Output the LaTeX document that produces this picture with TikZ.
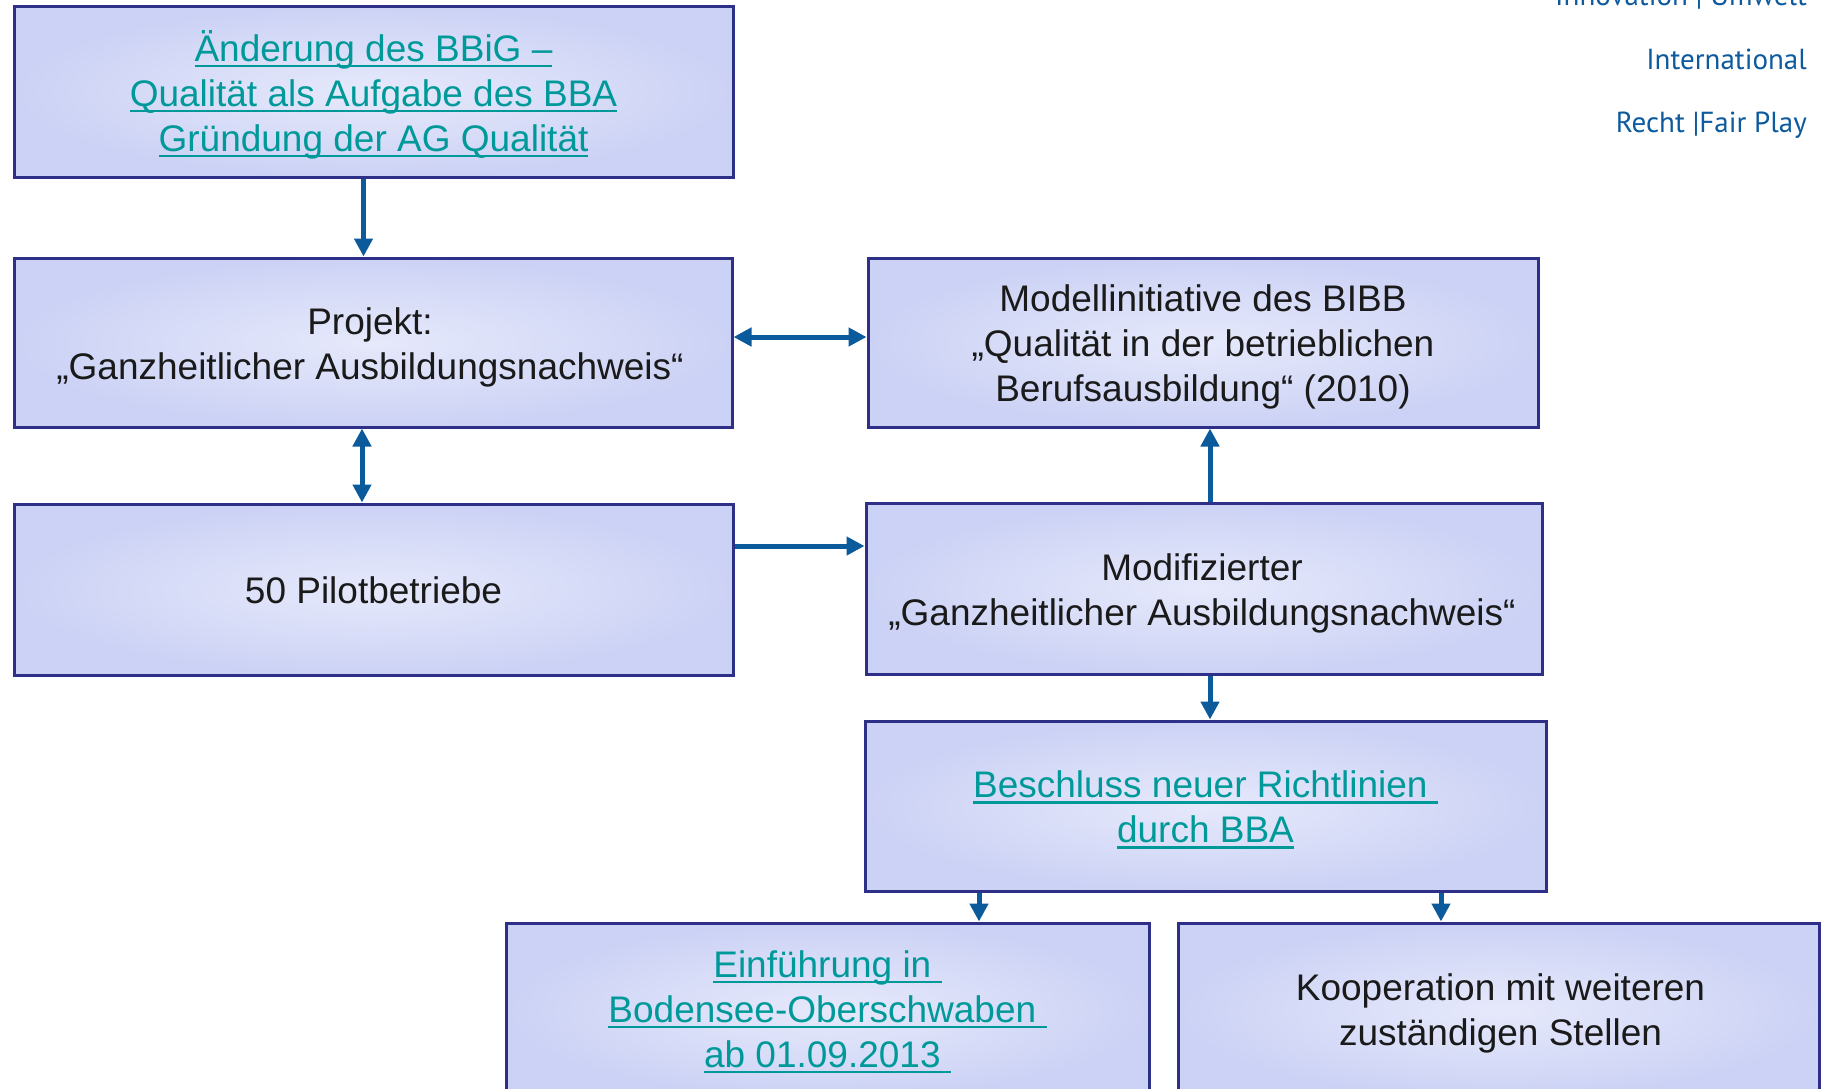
\documentclass[tikz,border=0pt]{standalone}
\usepackage{fontspec}
\setmainfont{Liberation Sans}
\newfontfamily\hdrfont{PT Sans}
\usetikzlibrary{arrows.meta}
\definecolor{boxin}{HTML}{E6E9FB}
\definecolor{boxout}{HTML}{CCD2F5}
\definecolor{boxline}{HTML}{2E3087}
\definecolor{arrowblue}{HTML}{0B5A9C}
\definecolor{linkteal}{HTML}{009999}
\definecolor{txtcol}{HTML}{1A1A1A}
\definecolor{hdrblue}{HTML}{0D5A9E}
\newcommand{\lnk}[1]{\setbox0\hbox{#1}\leavevmode\rlap{\rule[-6pt]{\wd0}{2.5pt}}\box0}
\tikzset{
  box/.style={draw=boxline, line width=3pt, shading=radial, inner color=boxin, outer color=boxout,
    inner sep=0pt},
  boxtext/.style={inner sep=0pt, align=center, font=\fontsize{37}{45}\selectfont, text=txtcol},
  linktext/.style={boxtext, text=linkteal},
  arr/.style={draw=arrowblue, line width=5pt, -{Triangle[length=18pt,width=18pt]}},
  darr/.style={draw=arrowblue, line width=5pt, {Triangle[length=18pt,width=18pt]}-{Triangle[length=18pt,width=18pt]}},
  hdr/.style={anchor=base east, inner sep=0pt, text=hdrblue, font=\hdrfont\fontsize{29}{34}\selectfont}
}
\begin{document}
\begin{tikzpicture}[x=1pt,y=-1pt]
\useasboundingbox (0,0) rectangle (1821,1088);
\clip (0,0) rectangle (1821,1088);
\fill[white] (0,0) rectangle (1821,1088);

\node[hdr] (h1) at (1807,5) {Innovation | Umwelt};
\node[hdr] (h2) at (1807,69) {International};
\node[hdr] (h3) at (1807,132) {Recht |Fair Play};

\node[box, minimum width=719pt, minimum height=171pt] (A) at (373.5,91.5) {};
\node[box, minimum width=718pt, minimum height=169pt] (B) at (373,342.5) {};
\node[box, minimum width=670pt, minimum height=169pt] (C) at (1203,342.5) {};
\node[box, minimum width=719pt, minimum height=171pt] (D) at (373.5,589.5) {};
\node[box, minimum width=676pt, minimum height=171pt] (E) at (1204,588.5) {};
\node[box, minimum width=681pt, minimum height=170pt] (F) at (1205.5,806) {};
\node[box, minimum width=643pt, minimum height=174pt] (G) at (827.5,1010) {};
\node[box, minimum width=641pt, minimum height=174pt] (H) at (1498.5,1010) {};

\node[linktext] (At) at ([yshift=-3pt]A.center)
  {\lnk{Änderung des BBiG –}\\\lnk{Qualität als Aufgabe des BBA}\\\lnk{Gründung der AG Qualität}};
\node[boxtext] (Bt) at ([xshift=-3pt,yshift=-4.5pt]B.center)
  {Projekt:\\„Ganzheitlicher Ausbildungsnachweis“};
\node[boxtext] (Ct) at ([yshift=-4pt]C.center)
  {Modellinitiative des BIBB\\„Qualität in der betrieblichen\\Berufsausbildung“ (2010)};
\node[boxtext] (Dt) at ([yshift=-1pt]D.center) {50 Pilotbetriebe};
\node[boxtext] (Et) at ([xshift=-2pt,yshift=-4.5pt]E.center)
  {Modifizierter\\„Ganzheitlicher Ausbildungsnachweis“};
\node[linktext] (Ft) at ([yshift=-4pt]F.center)
  {\lnk{Beschluss neuer Richtlinien\ }\\\lnk{durch BBA}};
\node[linktext] (Gt) at ([yshift=-2pt]G.center)
  {\lnk{Einführung in\ }\\\lnk{Bodensee-Oberschwaben\ }\\\lnk{ab 01.09.2013\ }};
\node[boxtext] (Ht) at ([xshift=2pt,yshift=-3.5pt]H.center)
  {Kooperation mit weiteren\\zuständigen Stellen};

\draw[arr] ([xshift=-10pt]A.south) -- ([xshift=-10pt]A.south |- B.north);
\draw[darr] ([yshift=5.5pt]B.east) -- ([yshift=5.5pt]B.east -| C.west);
\draw[darr] ([xshift=-11pt]B.south) -- ([xshift=-11pt]B.south |- D.north);
\draw[arr] ([yshift=43.5pt]D.east) -- ([yshift=43.5pt]D.east -| E.west);
\draw[arr] ([xshift=6pt]E.north) -- ([xshift=6pt]E.north |- C.south);
\draw[arr] ([xshift=6pt]E.south) -- ([xshift=6pt]E.south |- F.north);
\draw[arr] ([xshift=-226.5pt]F.south) -- ([xshift=-226.5pt]F.south |- G.north);
\draw[arr] ([xshift=235.5pt]F.south) -- ([xshift=235.5pt]F.south |- H.north);
\end{tikzpicture}
\end{document}
